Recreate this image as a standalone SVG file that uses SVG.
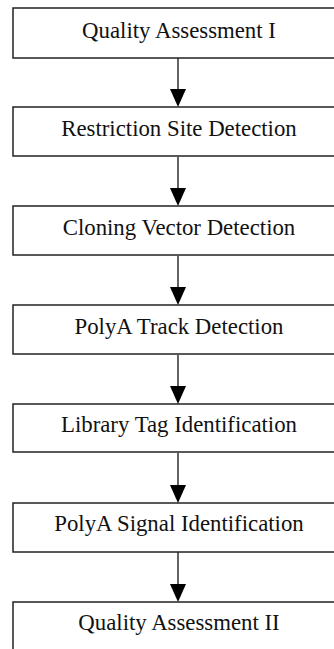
<svg xmlns="http://www.w3.org/2000/svg" width="334" height="649" viewBox="0 0 334 649">
<defs>
<style>
.box{fill:#fff;stroke:#222;stroke-width:1.5}
.lbl{font-family:"Liberation Serif","Times New Roman",serif;font-size:22.8px;fill:#111;text-anchor:middle}
.conn{stroke:#111;stroke-width:1.3;fill:none}
.head{fill:#000}
</style>
</defs>
<rect width="334" height="649" fill="#fff"/>
<g id="connectors">
<line class="conn" x1="178" y1="58" x2="178" y2="92"/><polygon class="head" points="170,89 186,89 178,107"/>
<line class="conn" x1="178" y1="157" x2="178" y2="191"/><polygon class="head" points="170,188 186,188 178,206"/>
<line class="conn" x1="178" y1="256" x2="178" y2="290"/><polygon class="head" points="170,287 186,287 178,305"/>
<line class="conn" x1="178" y1="355" x2="178" y2="389"/><polygon class="head" points="170,386 186,386 178,404"/>
<line class="conn" x1="178" y1="453" x2="178" y2="488"/><polygon class="head" points="170,485 186,485 178,503"/>
<line class="conn" x1="178" y1="552" x2="178" y2="587"/><polygon class="head" points="170,584 186,584 178,602"/>
</g>
<g id="n1"><rect class="box" x="13" y="8" width="325" height="50"/><text class="lbl" x="179" y="38">Quality Assessment I</text></g>
<g id="n2"><rect class="box" x="13" y="107" width="325" height="49"/><text class="lbl" x="179" y="136">Restriction Site Detection</text></g>
<g id="n3"><rect class="box" x="13" y="206" width="325" height="49"/><text class="lbl" x="179" y="235">Cloning Vector Detection</text></g>
<g id="n4"><rect class="box" x="13" y="305" width="325" height="49"/><text class="lbl" x="179" y="334">PolyA Track Detection</text></g>
<g id="n5"><rect class="box" x="13" y="404" width="325" height="48"/><text class="lbl" x="179" y="432">Library Tag Identification</text></g>
<g id="n6"><rect class="box" x="13" y="503" width="325" height="49"/><text class="lbl" x="179" y="531">PolyA Signal Identification</text></g>
<g id="n7"><rect class="box" x="13" y="602" width="325" height="52"/><text class="lbl" x="179" y="630">Quality Assessment II</text></g>
</svg>
